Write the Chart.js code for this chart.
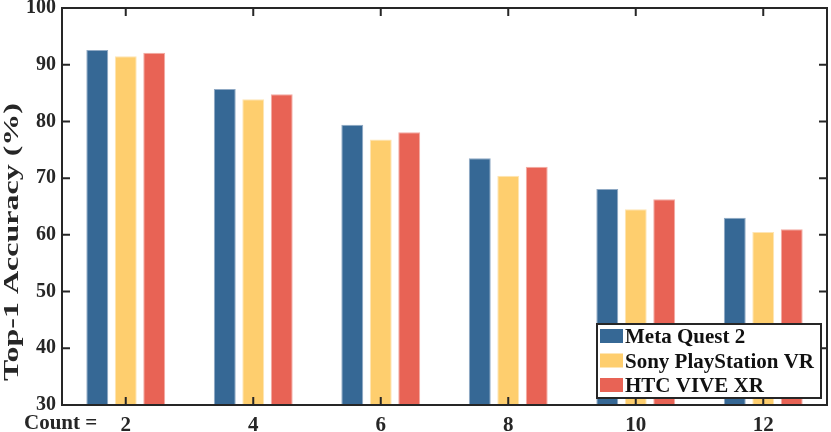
<!DOCTYPE html>
<html>
<head>
<meta charset="utf-8">
<script src="https://cdn.jsdelivr.net/npm/chart.js@4/dist/chart.umd.min.js"></script>
<style>
  html, body { margin: 0; padding: 0; background: #fff; }
  #wrap { width: 831px; height: 432px; }
</style>
</head>
<body>
<div id="wrap"><canvas id="chart" width="831" height="432"></canvas></div>
<script>
// Data
const counts = ['2', '4', '6', '8', '10', '12'];
const metaQuest = [92.6, 85.7, 79.4, 73.5, 68.1, 63.0];
const sonyVR = [91.5, 83.9, 76.8, 70.4, 64.5, 60.5];
const htcVive = [92.1, 84.8, 78.1, 72.0, 66.3, 61.0];
const yTicks = [30, 40, 50, 60, 70, 80, 90, 100];

const FONT = "'Liberation Serif', 'DejaVu Serif', serif";
const INK = '#262626';

// frame, inward ticks, axis title, "Count =" and the boxed legend
const framePlugin = {
    id: 'frame',
    afterDraw(chart) {
        const { ctx, chartArea: a, scales } = chart;
        ctx.save();
        ctx.strokeStyle = INK;
        ctx.lineWidth = 2;
        ctx.strokeRect(a.left, a.top, a.right - a.left, a.bottom - a.top);

        const len = 8;
        ctx.beginPath();
        counts.forEach((_, i) => {
            const x = scales.x.getPixelForTick(i);
            ctx.moveTo(x, a.bottom); ctx.lineTo(x, a.bottom - len);
            ctx.moveTo(x, a.top); ctx.lineTo(x, a.top + len);
        });
        yTicks.forEach(v => {
            const y = scales.y.getPixelForValue(v);
            ctx.moveTo(a.left, y); ctx.lineTo(a.left + len, y);
            ctx.moveTo(a.right, y); ctx.lineTo(a.right - len, y);
        });
        ctx.stroke();

        // y title (stretched along its length like the original export)
        ctx.fillStyle = INK;
        ctx.font = 'bold 21px ' + FONT;
        ctx.textAlign = 'center';
        ctx.textBaseline = 'middle';
        const title = 'Top-1 Accuracy (%)';
        const tw = ctx.measureText(title).width;
        ctx.translate(13, 242);
        ctx.rotate(-Math.PI / 2);
        ctx.scale(278 / tw, 1);
        ctx.fillText(title, 0, 0);
        ctx.setTransform(1, 0, 0, 1, 0, 0);

        // "Count =" in front of the x labels
        ctx.textAlign = 'left';
        ctx.textBaseline = 'alphabetic';
        ctx.fillText('Count =', 24, 429);

        // legend
        const lx = 597, ly = 324, lw = 224, lh = 74;
        ctx.fillStyle = '#fff';
        ctx.fillRect(lx, ly, lw, lh);
        ctx.strokeStyle = INK;
        ctx.lineWidth = 2;
        ctx.strokeRect(lx, ly, lw, lh);
        ctx.font = 'bold 21px ' + FONT;
        chart.data.datasets.forEach((ds, i) => {
            const cy = 336 + i * 24.5;
            ctx.fillStyle = ds.backgroundColor;
            ctx.fillRect(600, cy - 7, 23, 14);
            ctx.fillStyle = '#111';
            ctx.fillText(ds.label, 625, cy + 7);
        });
        ctx.restore();
    }
};

const barStyle = { borderWidth: 1, borderSkipped: false, categoryPercentage: 0.67, barPercentage: 0.77 };

new Chart(document.getElementById('chart'), {
    type: 'bar',
    data: {
        labels: counts,
        datasets: [
            { label: 'Meta Quest 2', data: metaQuest, backgroundColor: '#366895', borderColor: '#8fa9c4', ...barStyle },
            { label: 'Sony PlayStation VR', data: sonyVR, backgroundColor: '#fece6e', borderColor: '#fee5b4', ...barStyle },
            { label: 'HTC VIVE XR', data: htcVive, backgroundColor: '#e86355', borderColor: '#f3aba3', ...barStyle }
        ]
    },
    options: {
        responsive: false,
        animation: false,
        layout: { padding: { top: 8, right: 4, left: 0, bottom: 0 } },
        plugins: { legend: { display: false }, tooltip: { enabled: false } },
        scales: {
            x: {
                grid: { display: false, drawTicks: false },
                border: { display: false },
                ticks: { color: INK, font: { family: FONT, size: 21, weight: 'bold' }, padding: 8 },
                afterFit: s => { s.height = 27; s.paddingLeft = 0; s.paddingRight = 0; }
            },
            y: {
                min: 30, max: 100,
                grid: { display: false, drawTicks: false },
                border: { display: false },
                ticks: { stepSize: 10, color: INK, font: { family: FONT, size: 20, weight: 'bold' }, padding: 6 },
                afterFit: s => { s.width = 62; s.paddingTop = 0; s.paddingBottom = 0; }
            }
        }
    },
    plugins: [framePlugin]
});
</script>
</body>
</html>
